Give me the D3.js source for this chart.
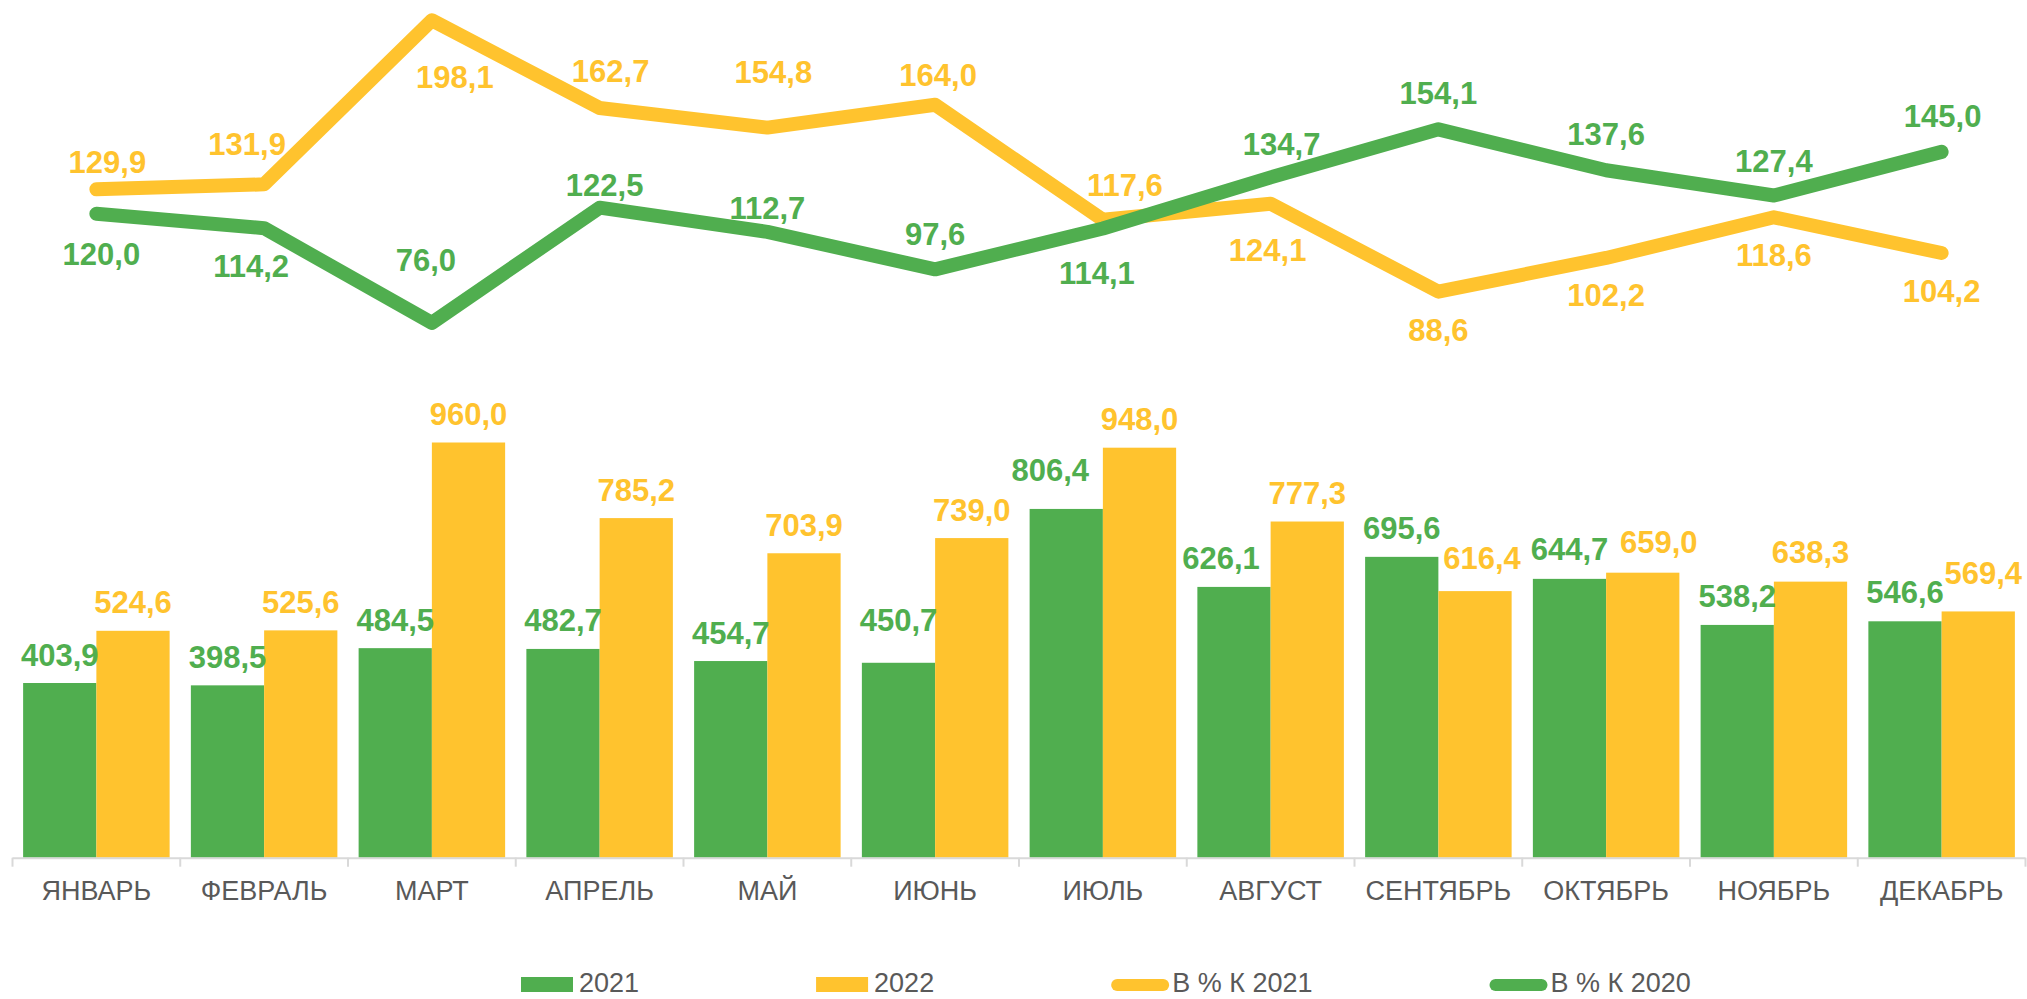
<!DOCTYPE html>
<html>
<head>
<meta charset="utf-8">
<script src="https://cdn.jsdelivr.net/npm/d3@7"></script>
<style>
  html, body { margin: 0; padding: 0; background: #fff; }
  svg { display: block; font-family: "Liberation Sans", Arial, sans-serif; }
</style>
</head>
<body>
<div id="chart"></div>
<script>
// данные
const months = ['ЯНВАРЬ', 'ФЕВРАЛЬ', 'МАРТ', 'АПРЕЛЬ', 'МАЙ', 'ИЮНЬ', 'ИЮЛЬ', 'АВГУСТ', 'СЕНТЯБРЬ', 'ОКТЯБРЬ', 'НОЯБРЬ', 'ДЕКАБРЬ'];
const values2021 = [403.9, 398.5, 484.5, 482.7, 454.7, 450.7, 806.4, 626.1, 695.6, 644.7, 538.2, 546.6];
const values2022 = [524.6, 525.6, 960.0, 785.2, 703.9, 739.0, 948.0, 777.3, 616.4, 659.0, 638.3, 569.4];
const pctTo2021 = [129.9, 131.9, 198.1, 162.7, 154.8, 164.0, 117.6, 124.1, 88.6, 102.2, 118.6, 104.2];
const pctTo2020 = [120.0, 114.2, 76.0, 122.5, 112.7, 97.6, 114.1, 134.7, 154.1, 137.6, 127.4, 145.0];
const legendNames = ['2021', '2022', 'В % К 2021', 'В % К 2020'];

// ручные сдвиги подписей (как в исходной диаграмме)
const barLabelShift2021 = [[0,0],[0,0],[0,0],[0,0],[0,0],[0,-14],[-16,-10],[-13,0],[0,0],[0,-1],[0,0],[0,-1]];
const barLabelShift2022 = [[0,0],[0,0],[0,0],[0,0],[0,0],[0,0],[0,0],[0,0],[7,-5],[16,-2],[0,-1],[5,-10]];
const lineLabelShift2021 = [[11,-27],[-17,-40],[23,57],[11,-37],[6,-56],[3,-30],[22,-35],[-3,46],[0,38],[0,37],[0,38],[0,38]];
const lineLabelShift2020 = [[5,40],[-13,38],[-6,-63],[5,-23],[0,-24],[0,-35],[-6,44],[11,-34],[0,-36],[0,-36],[0,-35],[1,-36]];

const GREEN = '#50AE4F';
const YELLOW = '#FFC32E';
const width = 2027, height = 999;
const baseline = 857.7;

const fmt = d3.formatLocale({ decimal: ',', thousands: ' ', grouping: [3], currency: ['', ''] }).format('.1f');

const svg = d3.select('#chart').append('svg').attr('width', width).attr('height', height);

const x = d3.scaleBand().domain(months).range([12.5, 2025.5]).padding(0);
const xSub = d3.scaleBand().domain(['2021', '2022']).range([0, x.bandwidth()]).paddingInner(0).paddingOuter(0.145);
const y1 = d3.scaleLinear().domain([0, 1000]).range([baseline, baseline - 432.5]);
const y2 = d3.scaleLinear().domain([0, 200]).range([511.2, 15.6]);

// столбцы
const barSeries = [
  { key: '2021', values: values2021, color: GREEN, shift: barLabelShift2021 },
  { key: '2022', values: values2022, color: YELLOW, shift: barLabelShift2022 }
];
const barG = svg.append('g');
barSeries.forEach(s => {
  barG.selectAll(null).data(s.values).enter().append('rect')
    .attr('x', (d, i) => x(months[i]) + xSub(s.key))
    .attr('y', d => y1(d))
    .attr('width', xSub.bandwidth())
    .attr('height', d => baseline - y1(d))
    .attr('fill', s.color);
});

// ось X
const axisG = svg.append('g');
axisG.append('line')
  .attr('x1', x.range()[0]).attr('x2', x.range()[1])
  .attr('y1', baseline + 0.5).attr('y2', baseline + 0.5)
  .attr('stroke', '#D9D9D9').attr('stroke-width', 2);
const bounds = months.map(m => x(m)).concat([x.range()[1]]);
axisG.selectAll('line.tick').data(bounds).enter().append('line')
  .attr('class', 'tick')
  .attr('x1', d => d).attr('x2', d => d)
  .attr('y1', baseline).attr('y2', baseline + 9)
  .attr('stroke', '#D9D9D9').attr('stroke-width', 2);
axisG.selectAll('text').data(months).enter().append('text')
  .attr('x', d => x(d) + x.bandwidth() / 2)
  .attr('y', 900)
  .attr('text-anchor', 'middle')
  .style('font-size', '27px')
  .style('fill', '#595959')
  .text(d => d);

// линии
const lineSeries = [
  { values: pctTo2021, color: YELLOW, shift: lineLabelShift2021 },
  { values: pctTo2020, color: GREEN, shift: lineLabelShift2020 }
];
const cx = i => x(months[i]) + x.bandwidth() / 2;
const lineGen = d3.line().x((d, i) => cx(i)).y(d => y2(d));
lineSeries.forEach(s => {
  svg.append('path')
    .datum(s.values)
    .attr('d', lineGen)
    .attr('fill', 'none')
    .attr('stroke', s.color)
    .attr('stroke-width', 14)
    .attr('stroke-linecap', 'round')
    .attr('stroke-linejoin', 'round');
});

// подписи столбцов
const labelSize = 31;
barSeries.forEach(s => {
  svg.append('g').selectAll('text').data(s.values).enter().append('text')
    .attr('x', (d, i) => x(months[i]) + xSub(s.key) + xSub.bandwidth() / 2 + s.shift[i][0])
    .attr('y', (d, i) => y1(d) - 17.5 + s.shift[i][1])
    .attr('text-anchor', 'middle')
    .style('font-size', labelSize + 'px')
    .style('font-weight', 'bold')
    .style('fill', s.color)
    .text(d => fmt(d));
});

// подписи линий
lineSeries.forEach(s => {
  svg.append('g').selectAll('text').data(s.values).enter().append('text')
    .attr('x', (d, i) => cx(i) + s.shift[i][0])
    .attr('y', (d, i) => y2(d) + s.shift[i][1] + labelSize * 0.358)
    .attr('text-anchor', 'middle')
    .style('font-size', labelSize + 'px')
    .style('font-weight', 'bold')
    .style('fill', s.color)
    .text(d => fmt(d));
});

// легенда
const legend = svg.append('g');
const legendTypes = ['rect', 'rect', 'line', 'line'];
const legendColors = [GREEN, YELLOW, YELLOW, GREEN];
let lx = 521;
legendNames.forEach((name, i) => {
  let textX;
  if (legendTypes[i] === 'rect') {
    legend.append('rect').attr('x', lx).attr('y', 977).attr('width', 52).attr('height', 15).attr('fill', legendColors[i]);
    textX = lx + 58;
  } else {
    legend.append('line').attr('x1', lx + 6).attr('x2', lx + 52).attr('y1', 985).attr('y2', 985)
      .attr('stroke', legendColors[i]).attr('stroke-width', 12).attr('stroke-linecap', 'round');
    textX = lx + 61;
  }
  const t = legend.append('text').attr('x', textX).attr('y', 992)
    .style('font-size', '27px').style('fill', '#595959').text(name);
  lx = textX + t.node().getComputedTextLength() + 177;
});
</script>
</body>
</html>
